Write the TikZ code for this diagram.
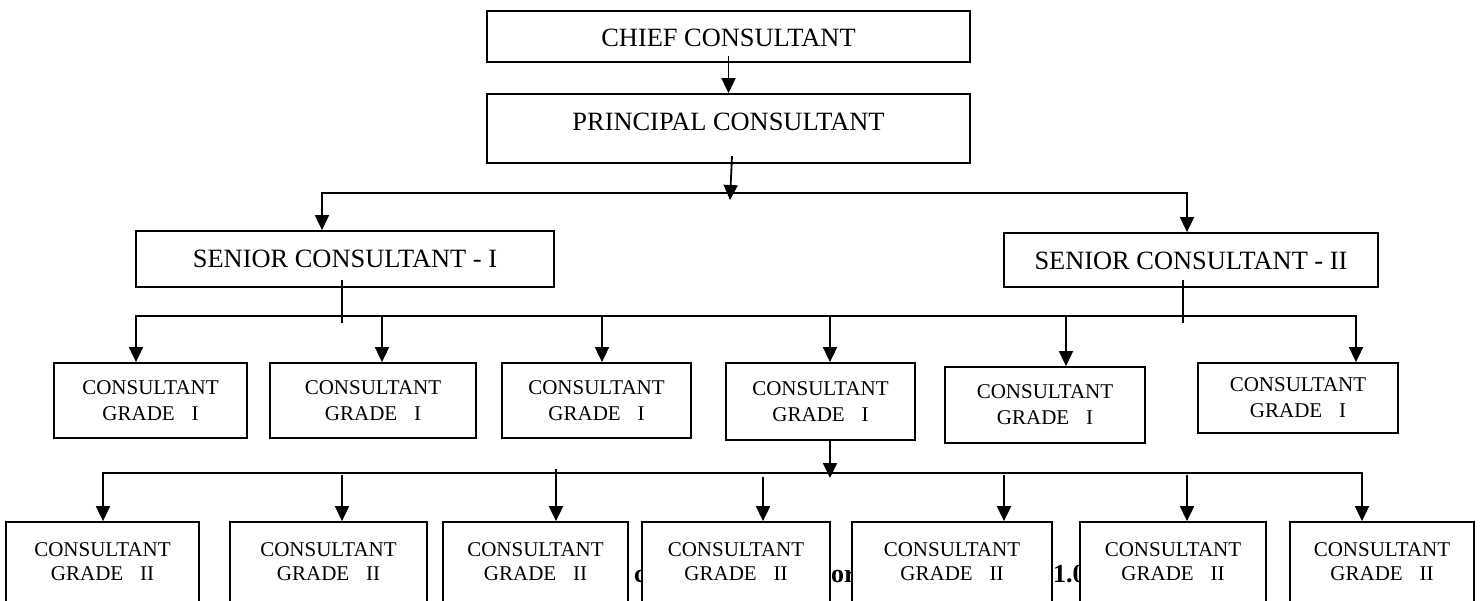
\documentclass[tikz,border=0pt]{standalone}
\usepackage{fontspec}
\setmainfont{Liberation Serif}
\usetikzlibrary{arrows.meta}
\newcommand\gradegap{\hspace{0.8em}}
\begin{document}
\begin{tikzpicture}[x=1pt,y=-1pt,
  box/.style={draw, line width=1.8pt, fill=white, inner sep=0pt, align=center},
  big/.style={box, font=\fontsize{26.4}{31}\selectfont, anchor=base},
  rthree/.style={box, font=\fontsize{21}{26}\selectfont},
  rfour/.style={box, font=\fontsize{21}{24}\selectfont, minimum height=80pt},
  ln/.style={line width=1.8pt},
  arr/.style={line width=1.8pt, -{Triangle[length=15pt,width=14pt]}},
  arrtwo/.style={line width=1.8pt, {Triangle[length=15pt,width=14pt]}-{Triangle[length=15pt,width=14pt]}},
  frag/.style={font=\bfseries\fontsize{26}{30}\selectfont, inner sep=0pt, anchor=base west}
]
\useasboundingbox (0,0) rectangle (1481,600);
\fill[white] (0,0) rectangle (1481,600);
\clip (0,0) rectangle (1481,600);

% fragments of an underlying caption
\node[frag] (fa) at (634,582) {c};
\node[frag] (fb) at (831,582) {or};
\node[frag] (fc) at (1053,582) {1.0};

% top levels
\node[big, minimum width=483pt, text height=35.3pt, text depth=16pt] (chief) at (728.5,46) {CHIEF CONSULTANT};
\node[big, minimum width=483pt, text height=36pt, text depth=33pt] (princ) at (728.5,130) {PRINCIPAL CONSULTANT};
\node[big, minimum width=418pt, text height=36pt, text depth=20pt] (s1) at (345,267) {SENIOR CONSULTANT - I};
\node[big, minimum width=374pt, text height=36pt, text depth=18pt] (s2) at (1191,269) {SENIOR CONSULTANT - II};

% grade I
\node[rthree, minimum width=193pt, minimum height=75pt] (c1) at (150.5,400.5) {CONSULTANT\\GRADE\gradegap I};
\node[rthree, minimum width=206pt, minimum height=75pt] (c2) at (373,400.5) {CONSULTANT\\GRADE\gradegap I};
\node[rthree, minimum width=189pt, minimum height=75pt] (c3) at (596.5,400.5) {CONSULTANT\\GRADE\gradegap I};
\node[rthree, minimum width=189pt, minimum height=77pt] (c4) at (820.5,401.5) {CONSULTANT\\GRADE\gradegap I};
\node[rthree, minimum width=200pt, minimum height=76pt] (c5) at (1045,405) {CONSULTANT\\GRADE\gradegap I};
\node[rthree, minimum width=200pt, minimum height=70pt] (c6) at (1298,398) {CONSULTANT\\GRADE\gradegap I};

% grade II
\node[rfour, minimum width=193pt] (g1) at (102.5,562) {CONSULTANT\\GRADE\gradegap II};
\node[rfour, minimum width=197pt] (g2) at (328.5,562) {CONSULTANT\\GRADE\gradegap II};
\node[rfour, minimum width=185pt] (g3) at (535.5,562) {CONSULTANT\\GRADE\gradegap II};
\node[rfour, minimum width=188pt] (g4) at (736,562) {CONSULTANT\\GRADE\gradegap II};
\node[rfour, minimum width=200pt] (g5) at (952,562) {CONSULTANT\\GRADE\gradegap II};
\node[rfour, minimum width=186pt] (g6) at (1173,562) {CONSULTANT\\GRADE\gradegap II};
\node[rfour, minimum width=184pt] (g7) at (1382,562) {CONSULTANT\\GRADE\gradegap II};

% chief -> principal
\draw[arr] ([yshift=7pt]chief.south) -- (princ.north);

% principal -> seniors
\coordinate (pa) at (732,156);
\coordinate (pt) at (730,200);
\coordinate (b1) at (322,193);
\coordinate (b2) at (1187,193);
\draw[arrtwo] (b1 |- s1.north) -- (b1) -- (b2) -- (b2 |- s2.north);
\draw[arr] (pa) -- (pt);

% seniors -> grade I
\coordinate (s1a) at (342,280);
\coordinate (s1b) at (342,323);
\coordinate (s2a) at (1183,280);
\coordinate (s2b) at (1183,323);
\draw[ln] (s1a) -- (s1b);
\draw[ln] (s2a) -- (s2b);
\coordinate (d1) at (136,316);
\coordinate (d2) at (382,316);
\coordinate (d3) at (602,316);
\coordinate (d4) at (830,316);
\coordinate (d5) at (1066,316);
\coordinate (d6) at (1356,316);
\draw[arrtwo] (d1 |- c1.north) -- (d1) -- (d6) -- (d6 |- c6.north);
\draw[arr] (d2) -- (d2 |- c2.north);
\draw[arr] (d3) -- (d3 |- c3.north);
\draw[arr] (d4) -- (d4 |- c4.north);
\draw[arr] (d5) -- (d5 |- c5.north);

% grade I -> grade II
\coordinate (c4d) at (830,478);
\draw[arr] (c4d |- c4.south) -- (c4d);
\coordinate (e1) at (103,473);
\coordinate (e2) at (342,475);
\coordinate (e3) at (556,469);
\coordinate (e4) at (763,477);
\coordinate (e5) at (1004,475);
\coordinate (e6) at (1187,475);
\coordinate (e7) at (1362,473);
\draw[arrtwo] (e1 |- g1.north) -- (e1) -- (e7) -- (e7 |- g7.north);
\draw[arr] (e2) -- (e2 |- g2.north);
\draw[arr] (e3) -- (e3 |- g3.north);
\draw[arr] (e4) -- (e4 |- g4.north);
\draw[arr] (e5) -- (e5 |- g5.north);
\draw[arr] (e6) -- (e6 |- g6.north);
\end{tikzpicture}
\end{document}
